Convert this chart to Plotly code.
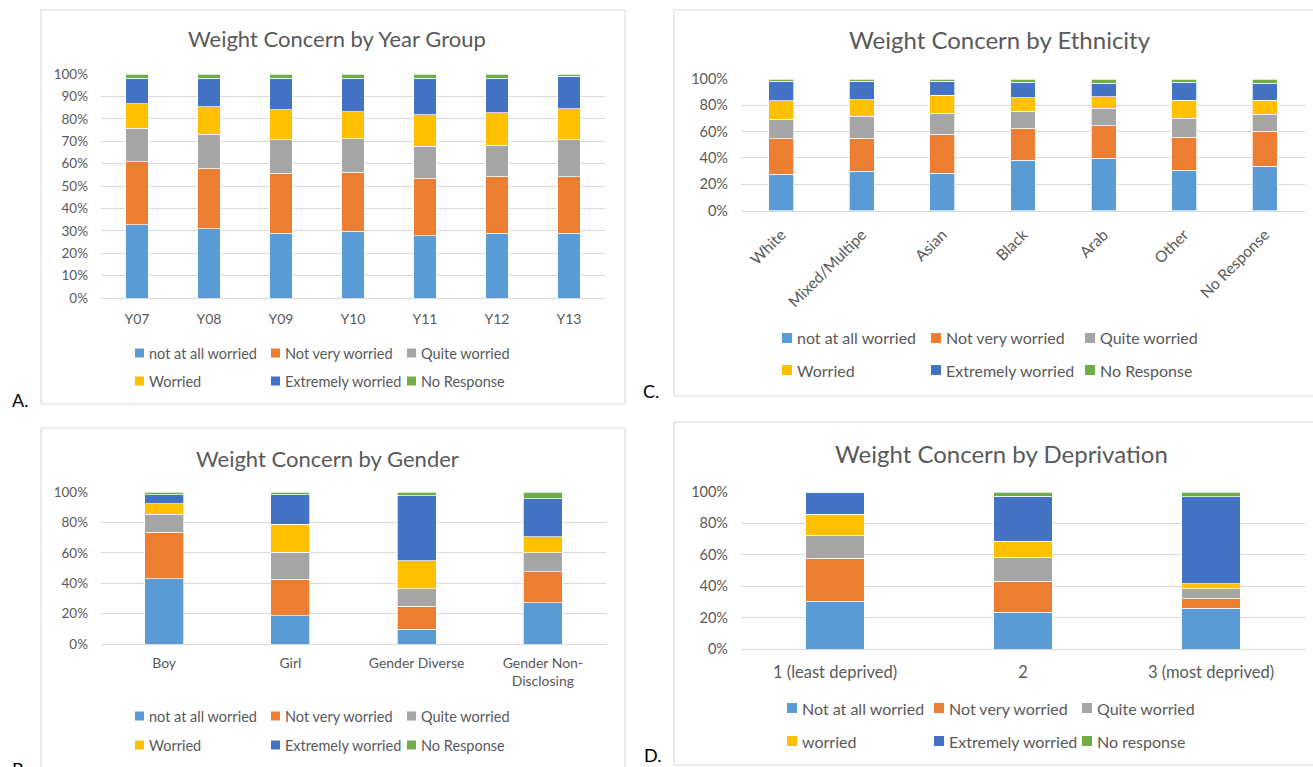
import plotly.graph_objects as go

W, H = 1313, 767
FONT = "Lato"
TXT = "#595959"
GRID = "#D9D9D9"

colors = ["#5B9BD5", "#ED7D31", "#A5A5A5", "#FFC000", "#4472C4", "#70AD47"]
names_main = ["not at all worried", "Not very worried", "Quite worried",
              "Worried", "Extremely worried", "No Response"]
names_dep = ["Not at all worried", "Not very worried", "Quite worried",
             "worried", "Extremely worried", "No response"]

# A. Year group (% of respondents)
year_groups = ["Y07", "Y08", "Y09", "Y10", "Y11", "Y12", "Y13"]
year_not_at_all = [32.8, 30.9, 28.8, 29.9, 27.9, 29.0, 29.0]
year_not_very = [28.0, 27.0, 26.9, 26.3, 25.4, 25.4, 25.2]
year_quite = [15.0, 15.2, 14.9, 15.0, 14.5, 13.8, 16.4]
year_worried = [11.0, 12.3, 13.5, 12.0, 14.1, 14.6, 13.8]
year_extreme = [11.3, 12.7, 14.0, 14.9, 16.2, 15.3, 14.7]
year_no_resp = [1.9, 1.9, 1.9, 1.9, 1.9, 1.9, 0.9]

# B. Gender
genders = ["Boy", "Girl", "Gender Diverse", "Gender Non-<br>Disclosing"]
gender_not_at_all = [42.9, 18.5, 9.7, 27.0]
gender_not_very = [30.7, 24.1, 15.1, 20.5]
gender_quite = [11.7, 17.8, 11.5, 12.5]
gender_worried = [7.0, 18.5, 18.4, 10.5]
gender_extreme = [5.9, 19.3, 42.9, 25.1]
gender_no_resp = [1.8, 1.8, 2.4, 4.4]

# C. Ethnicity
ethnicities = ["White", "Mixed/Multipe", "Asian", "Black", "Arab", "Other", "No Response"]
eth_not_at_all = [27.5, 29.8, 28.5, 38.2, 39.7, 30.5, 33.8]
eth_not_very = [27.0, 25.2, 29.5, 24.4, 24.9, 25.2, 26.3]
eth_quite = [15.0, 16.5, 16.0, 13.0, 13.3, 14.5, 13.2]
eth_worried = [14.0, 12.7, 13.5, 10.2, 8.6, 13.5, 10.4]
eth_extreme = [14.7, 14.0, 10.7, 11.7, 10.2, 14.0, 13.2]
eth_no_resp = [1.8, 1.8, 1.8, 2.5, 3.3, 2.3, 3.1]

# D. Deprivation
deprivation = ["1 (least deprived)", "2", "3 (most deprived)"]
dep_not_at_all = [30.4, 23.4, 26.0]
dep_not_very = [27.3, 19.8, 5.9]
dep_quite = [14.9, 15.1, 6.6]
dep_worried = [13.1, 10.4, 3.0]
dep_extreme = [13.7, 28.5, 55.5]
dep_no_resp = [0.6, 2.8, 3.0]


def fx(x):
    return x / W


def fy(y):
    return 1 - y / H


panels = [
    dict(ax="", title="Weight Concern by Year Group", cats=year_groups, names=names_main,
         series=[year_not_at_all, year_not_very, year_quite, year_worried, year_extreme, year_no_resp],
         plot=(101, 605, 74, 298), dtick=10, title_xy=(337, 39), title_size=22, angle=0,
         xfont=14, yfont=13.5, xstand=8,
         leg_cols=[135, 271, 407], leg_rows=[353, 381], leg_font=14.5, sq=9, box=(41, 10, 625, 404)),
    dict(ax="2", title="Weight Concern by Gender", cats=genders, names=names_main,
         series=[gender_not_at_all, gender_not_very, gender_quite, gender_worried, gender_extreme, gender_no_resp],
         plot=(101, 606, 492, 644), dtick=20, title_xy=(327, 458), title_size=22, angle=0,
         xfont=14, yfont=13.5, xstand=6,
         leg_cols=[135, 271, 407], leg_rows=[716, 745], leg_font=14.5, sq=9, box=(41, 428, 625, 790)),
    dict(ax="3", title="Weight Concern by Ethnicity", cats=ethnicities, names=names_main,
         series=[eth_not_at_all, eth_not_very, eth_quite, eth_worried, eth_extreme, eth_no_resp],
         plot=(741, 1305, 79, 210.5), dtick=20, title_xy=(1000, 40), title_size=24, angle=-45,
         xfont=15.5, yfont=14.5, xstand=8,
         leg_cols=[782, 931, 1085], leg_rows=[338, 370], leg_font=16, sq=10, box=(674, 10, 1330, 396)),
    dict(ax="4", title="Weight Concern by Deprivation", cats=deprivation, names=names_dep,
         series=[dep_not_at_all, dep_not_very, dep_quite, dep_worried, dep_extreme, dep_no_resp],
         plot=(741, 1305, 492, 649), dtick=20, title_xy=(1001, 453), title_size=24, angle=0,
         xfont=16.5, yfont=14.5, xstand=8,
         leg_cols=[787, 934, 1082], leg_rows=[708, 741], leg_font=16, sq=10, box=(674, 422, 1330, 765)),
]

fig = go.Figure()
shapes = []
annotations = []

for p in panels:
    xa = "x" + p["ax"]
    ya = "y" + p["ax"]
    for name, vals, col in zip(p["names"], p["series"], colors):
        fig.add_trace(go.Bar(
            x=p["cats"], y=vals, name=name, xaxis=xa, yaxis=ya,
            marker=dict(color=col, line=dict(color="white", width=0.7)),
            showlegend=False, hovertemplate="%{x}: %{y:.1f}%<extra>" + name + "</extra>",
        ))

    x0, x1, y0, y1 = p["plot"]
    fig.layout["xaxis" + p["ax"]] = dict(
        domain=[fx(x0), fx(x1)], anchor=ya, type="category", automargin=False,
        showline=True, linecolor=GRID, linewidth=1.3, showgrid=False, ticks="",
        tickangle=p["angle"], ticklabelstandoff=p["xstand"],
        tickfont=dict(family=FONT, size=p["xfont"], color=TXT),
        fixedrange=True,
    )
    fig.layout["yaxis" + p["ax"]] = dict(
        domain=[fy(y1), fy(y0)], anchor=xa, range=[0, 100], dtick=p["dtick"], automargin=False,
        ticksuffix="%", showgrid=True, gridcolor=GRID, gridwidth=1, zeroline=False,
        showline=False, ticks="", ticklabelstandoff=12,
        tickfont=dict(family=FONT, size=p["yfont"], color=TXT), fixedrange=True,
    )

    # panel frame
    bx0, by0, bx1, by1 = p["box"]
    shapes.append(dict(type="rect", xref="paper", yref="paper", x0=fx(bx0), x1=fx(bx1),
                       y0=fy(by1), y1=fy(by0), line=dict(color=GRID, width=1), layer="below"))

    # title
    tx, ty = p["title_xy"]
    annotations.append(dict(text=p["title"], x=fx(tx), y=fy(ty), xref="paper", yref="paper",
                            xanchor="center", yanchor="middle", showarrow=False,
                            font=dict(family=FONT, size=p["title_size"], color=TXT)))

    # legend: two rows of three entries
    s = p["sq"]
    for i, (name, col) in enumerate(zip(p["names"], colors)):
        lx = p["leg_cols"][i % 3]
        ly = p["leg_rows"][i // 3]
        shapes.append(dict(type="rect", xref="paper", yref="paper",
                           x0=fx(lx), x1=fx(lx + s), y0=fy(ly + s / 2), y1=fy(ly - s / 2),
                           fillcolor=col, line=dict(width=0)))
        annotations.append(dict(text=name, x=fx(lx + s + 3), y=fy(ly), xref="paper", yref="paper",
                                xanchor="left", yanchor="middle", showarrow=False,
                                font=dict(family=FONT, size=p["leg_font"], color=TXT)))

# panel letters
for letter, lx, ly in [("A.", 10, 400), ("B.", 10, 769), ("C.", 641, 391), ("D.", 642, 755)]:
    annotations.append(dict(text=letter, x=fx(lx), y=fy(ly), xref="paper", yref="paper",
                            xanchor="left", yanchor="middle", showarrow=False,
                            font=dict(family=FONT, size=18, color="#000000")))

fig.update_layout(
    width=W, height=H, autosize=False,
    margin=dict(l=0, r=0, t=0, b=0, pad=0, autoexpand=False),
    paper_bgcolor="white", plot_bgcolor="white",
    barmode="stack", bargap=0.69,
    shapes=shapes, annotations=annotations,
    font=dict(family=FONT, color=TXT),
)

fig.write_html(
    "out.html",
    config={"displayModeBar": False},
    post_script="document.body.style.margin='0';document.body.style.overflow='hidden';",
)
